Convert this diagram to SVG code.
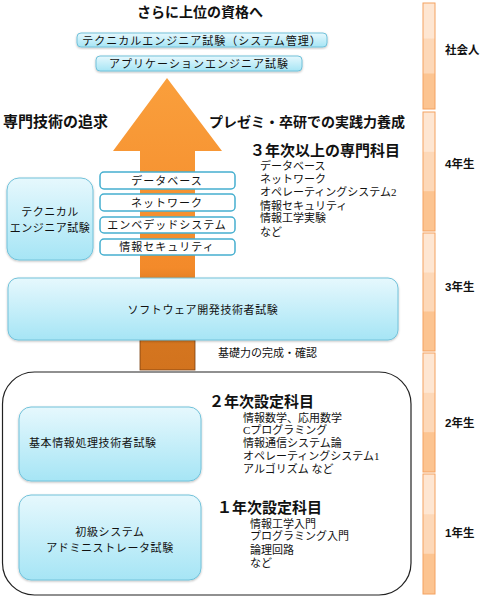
<svg xmlns="http://www.w3.org/2000/svg" width="480" height="599" viewBox="0 0 480 599">
<defs>
<linearGradient id="cyan" x1="0" y1="0" x2="0" y2="1">
<stop offset="0" stop-color="#e6f8fd"/>
<stop offset="1" stop-color="#a6e5f5"/>
</linearGradient>
<linearGradient id="arrowg" gradientUnits="userSpaceOnUse" x1="0" y1="78" x2="0" y2="370">
<stop offset="0" stop-color="#fa9f3c"/>
<stop offset="0.65" stop-color="#f38a2a"/>
<stop offset="0.72" stop-color="#d97a22"/>
<stop offset="1" stop-color="#d2731e"/>
</linearGradient>
<linearGradient id="seg" x1="0" y1="0" x2="0" y2="1">
<stop offset="0" stop-color="#fee6d2"/>
<stop offset="0.33" stop-color="#fee6d2"/>
<stop offset="0.34" stop-color="#fdd8b8"/>
<stop offset="0.66" stop-color="#fdd8b8"/>
<stop offset="0.67" stop-color="#fcc491"/>
<stop offset="1" stop-color="#fcc491"/>
</linearGradient>
<filter id="sh" x="-10%" y="-10%" width="120%" height="130%">
<feDropShadow dx="0" dy="1" stdDeviation="0.8" flood-color="#000" flood-opacity="0.25"/>
</filter>
</defs>
<style>
text{font-family:"Noto Sans CJK JP","Liberation Sans",sans-serif;fill:#111}
.b{font-weight:bold}
.m{font-family:"Liberation Serif","Noto Sans CJK JP",serif;font-size:11px}
.box{fill:url(#cyan);stroke:#72c2da;stroke-width:1}
.sm{fill:#fff;stroke:#45afcf;stroke-width:1.5}
.seg{fill:url(#seg);stroke:#f4a261;stroke-width:1}
.bt{font-size:11px;letter-spacing:1px}
.yr{font-size:11.5px;font-weight:bold;font-family:"Liberation Sans","Noto Sans CJK JP",sans-serif}
</style>

<g id="timeline">
<rect class="seg" x="423" y="3" width="12" height="106"/>
<rect class="seg" x="423" y="112" width="12" height="119"/>
<rect class="seg" x="423" y="233" width="12" height="118"/>
<rect class="seg" x="423" y="353" width="12" height="119"/>
<rect class="seg" x="423" y="474" width="12" height="120"/>
<text class="yr" x="445" y="54">社会人</text>
<text class="yr" x="445" y="168">4年生</text>
<text class="yr" x="445" y="291">3年生</text>
<text class="yr" x="445" y="427">2年生</text>
<text class="yr" x="445" y="537">1年生</text>
</g>

<g id="title">
<text class="b" x="200" y="17" font-size="14" text-anchor="middle">さらに上位の資格へ</text>
</g>

<g id="top1">
<rect class="box" x="77" y="33" width="250" height="14" rx="4" filter="url(#sh)"/>
<text class="bt" x="202" y="44.5" text-anchor="middle">テクニカルエンジニア試験（システム管理）</text>
</g>
<g id="top2">
<rect class="box" x="96" y="56" width="206" height="15" rx="4" filter="url(#sh)"/>
<text class="bt" x="199" y="68" text-anchor="middle">アプリケーションエンジニア試験</text>
</g>

<g id="connectors">
<polygon points="167,78 222,151 195,151 195,370 140,370 140,151 113,151" fill="url(#arrowg)"/>
<rect x="140" y="340" width="55" height="30" fill="none" stroke="#7a4010" stroke-width="0.8"/>
</g>

<g id="headings">
<text class="b" x="3" y="127" font-size="15">専門技術の追求</text>
<text class="b" x="209" y="127" font-size="14">プレゼミ・卒研での実践力養成</text>
</g>

<g id="senmon">
<text class="b" x="250" y="156" font-size="15">３年次以上の専門科目</text>
<text class="m" x="260" y="170">データベース</text>
<text class="m" x="260" y="183">ネットワーク</text>
<text class="m" x="260" y="196">オペレーティングシステム2</text>
<text class="m" x="260" y="210">情報セキュリティ</text>
<text class="m" x="260" y="222">情報工学実験</text>
<text class="m" x="260" y="236">など</text>
</g>

<g id="tech">
<rect class="box" x="7" y="178" width="86" height="82" rx="12" filter="url(#sh)"/>
<text x="50" y="216" font-size="11" text-anchor="middle" letter-spacing="0.5">テクニカル</text>
<text x="50" y="232" font-size="11" text-anchor="middle" letter-spacing="0.5">エンジニア試験</text>
</g>

<g id="db">
<rect class="sm" x="100" y="172" width="135" height="17" rx="4"/>
<text class="bt" x="167" y="185" text-anchor="middle">データベース</text>
</g>
<g id="nw">
<rect class="sm" x="100" y="194" width="135" height="17" rx="4"/>
<text class="bt" x="167" y="207" text-anchor="middle">ネットワーク</text>
</g>
<g id="emb">
<rect class="sm" x="100" y="217" width="135" height="16" rx="4"/>
<text class="bt" x="167" y="229" text-anchor="middle">エンベデッドシステム</text>
</g>
<g id="sec">
<rect class="sm" x="100" y="239" width="135" height="16" rx="4"/>
<text class="bt" x="167" y="251" text-anchor="middle">情報セキュリティ</text>
</g>

<g id="soft">
<rect class="box" x="8" y="278" width="390" height="62" rx="10" filter="url(#sh)"/>
<text x="203" y="314" font-size="11" text-anchor="middle" letter-spacing="0.6">ソフトウェア開発技術者試験</text>
</g>

<g id="kiso">
<text x="218" y="357" font-size="11">基礎力の完成・確認</text>
</g>

<g id="lower">
<rect x="2.5" y="372" width="408.5" height="223" rx="32" fill="none" stroke="#222" stroke-width="1.2"/>
</g>

<g id="kihon">
<rect class="box" x="19" y="407" width="182" height="74" rx="12" filter="url(#sh)"/>
<text x="29" y="447" font-size="11" letter-spacing="0.6">基本情報処理技術者試験</text>
</g>

<g id="y2">
<text class="b" x="209" y="407" font-size="15">２年次設定科目</text>
<text class="m" x="243" y="422">情報数学、応用数学</text>
<text class="m" x="243" y="434">Cプログラミング</text>
<text class="m" x="243" y="447">情報通信システム論</text>
<text class="m" x="243" y="460">オペレーティングシステム1</text>
<text class="m" x="243" y="473">アルゴリズム など</text>
</g>

<g id="shokyu">
<rect class="box" x="19" y="495" width="182" height="85" rx="12" filter="url(#sh)"/>
<text x="110" y="536" font-size="11" text-anchor="middle" letter-spacing="0.6">初級システム</text>
<text x="110" y="552" font-size="11" text-anchor="middle" letter-spacing="0.6">アドミニストレータ試験</text>
</g>

<g id="y1">
<text class="b" x="217" y="513" font-size="15">１年次設定科目</text>
<text class="m" x="250" y="528">情報工学入門</text>
<text class="m" x="250" y="540">プログラミング入門</text>
<text class="m" x="250" y="554">論理回路</text>
<text class="m" x="250" y="567">など</text>
</g>
</svg>
